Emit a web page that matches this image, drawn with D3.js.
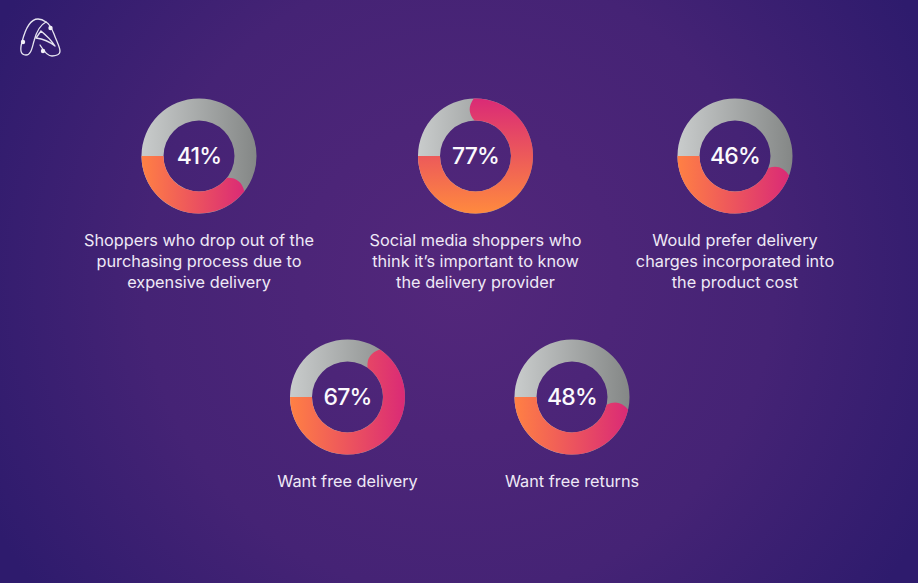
<!DOCTYPE html>
<html>
<head>
<meta charset="utf-8">
<script src="https://cdn.jsdelivr.net/npm/d3@7"></script>
<style>
	html, body { margin: 0; padding: 0; background: #3a1f72; overflow: hidden; }
	svg { display: block; }
	text { font-family: 'Inter', 'Open Sans', sans-serif; text-anchor: middle; }
	.pct { font-size: 23px; font-weight: 500; letter-spacing: -0.8px; fill: #fbf9fd; }
	.label { font-size: 16.3px; font-weight: 400; fill: #efe9f6; }
</style>
</head>
<body>
<svg id="chart" width="918" height="583"></svg>
<script>
const percents = [41, 77, 46, 67, 48];
const captions = [
	['Shoppers who drop out of the', 'purchasing process due to', 'expensive delivery'],
	['Social media shoppers who', 'think it’s important to know', 'the delivery provider'],
	['Would prefer delivery', 'charges incorporated into', 'the product cost'],
	['Want free delivery'],
	['Want free returns']
];

// ring centres
const centerX = [199, 475.5, 735, 347.5, 572];
const centerY = [156, 156, 156, 397, 397];

const W = 918, H = 583;
const R = 57.5, r = 35.5;
const midR = (R + r) / 2;
const capAngle = 5.5 * Math.PI / 180; // how far the shallow round end bulges

const svg = d3.select('#chart');
const defs = svg.append('defs');

const bg = defs.append('radialGradient')
	.attr('id', 'bg')
	.attr('gradientUnits', 'userSpaceOnUse')
	.attr('cx', 459).attr('cy', 280).attr('r', 525);
bg.append('stop').attr('offset', 0).attr('stop-color', '#53277b');
bg.append('stop').attr('offset', 0.6).attr('stop-color', '#452375');
bg.append('stop').attr('offset', 1).attr('stop-color', '#2e1b6d');

svg.append('rect').attr('width', W).attr('height', H).attr('fill', 'url(#bg)');

// fraction of the full turn, drawn counter clockwise from 9 o'clock
const sweep = d3.scaleLinear().domain([0, 100]).range([0, 2 * Math.PI]);
const arc = d3.arc().innerRadius(r).outerRadius(R);
const polar = (radius, a) => [Math.cos(a) * radius, Math.sin(a) * radius];

function gradient(id, vertical, from, to) {
	const g = defs.append('linearGradient')
		.attr('id', id)
		.attr('x1', 0).attr('y1', vertical ? 1 : 0)
		.attr('x2', vertical ? 0 : 1).attr('y2', 0);
	g.append('stop').attr('offset', 0).attr('stop-color', from);
	g.append('stop').attr('offset', 1).attr('stop-color', to);
}

function hotPath(p) {
	const a0 = Math.PI; // 9 o'clock in canvas angles
	const tip = a0 - sweep(p);
	const a1 = tip + capAngle;
	const outer = polar(R, a1), inner = polar(r, a1), top = polar(midR, tip);
	const ctrl = [
		2 * top[0] - (outer[0] + inner[0]) / 2,
		2 * top[1] - (outer[1] + inner[1]) / 2
	];
	const path = d3.path();
	path.arc(0, 0, R, a0, a1, true);
	path.quadraticCurveTo(ctrl[0], ctrl[1], inner[0], inner[1]);
	path.arc(0, 0, r, a1, a0, false);
	path.closePath();
	return path.toString();
}

gradient('grey', false, '#c9cccc', '#848786');

percents.forEach((p, i) => {
	const vertical = p === 77;
	const g = svg.append('g').attr('transform', `translate(${centerX[i]},${centerY[i]})`);

	gradient(`hot${i}`, vertical, vertical ? '#ff8a3e' : '#ff8044', '#da2a76');

	g.append('path')
		.attr('fill', 'url(#grey)')
		.attr('d', arc({ startAngle: 0, endAngle: 2 * Math.PI }));

	g.append('path')
		.attr('fill', `url(#hot${i})`)
		.attr('d', hotPath(p));

	g.append('text')
		.attr('class', 'pct')
		.attr('y', 7.5)
		.text(`${p}%`);

	g.selectAll('text.label')
		.data(captions[i])
		.enter()
		.append('text')
		.attr('class', 'label')
		.attr('y', (d, k) => 90 + k * 21.2)
		.text(d => d);
});

// logo, outline A with small stars
const logo = svg.append('g')
	.attr('fill', 'none')
	.attr('stroke', '#e6e4f0')
	.attr('stroke-width', 1.3)
	.attr('stroke-linecap', 'round');
logo.append('path').attr('d', 'M38 19 C30 19 25 30 22 42 C20 49 20 55 26 55 C31 55 32 48 34 41 C36 33 40 25 46 22 C42 19 40 19 38 19');
logo.append('path').attr('d', 'M46 22 C50 24 52 29 54 34 C56 40 60 47 60 51 C60 55 55 56 52 56 C47 56 43 50 40 45');
logo.append('path').attr('d', 'M36 38 L41 31 M36 38 C43 39 50 42 55 46 M41 31 C46 35 51 40 55 46');
const stars = logo.append('g').attr('fill', '#f2f1f7').attr('stroke', 'none');
stars.append('circle').attr('cx', 23).attr('cy', 42).attr('r', 2.2);
stars.append('circle').attr('cx', 50.5).attr('cy', 28).attr('r', 2.2);
stars.append('circle').attr('cx', 43).attr('cy', 51).attr('r', 2.2);
</script>
</body>
</html>
